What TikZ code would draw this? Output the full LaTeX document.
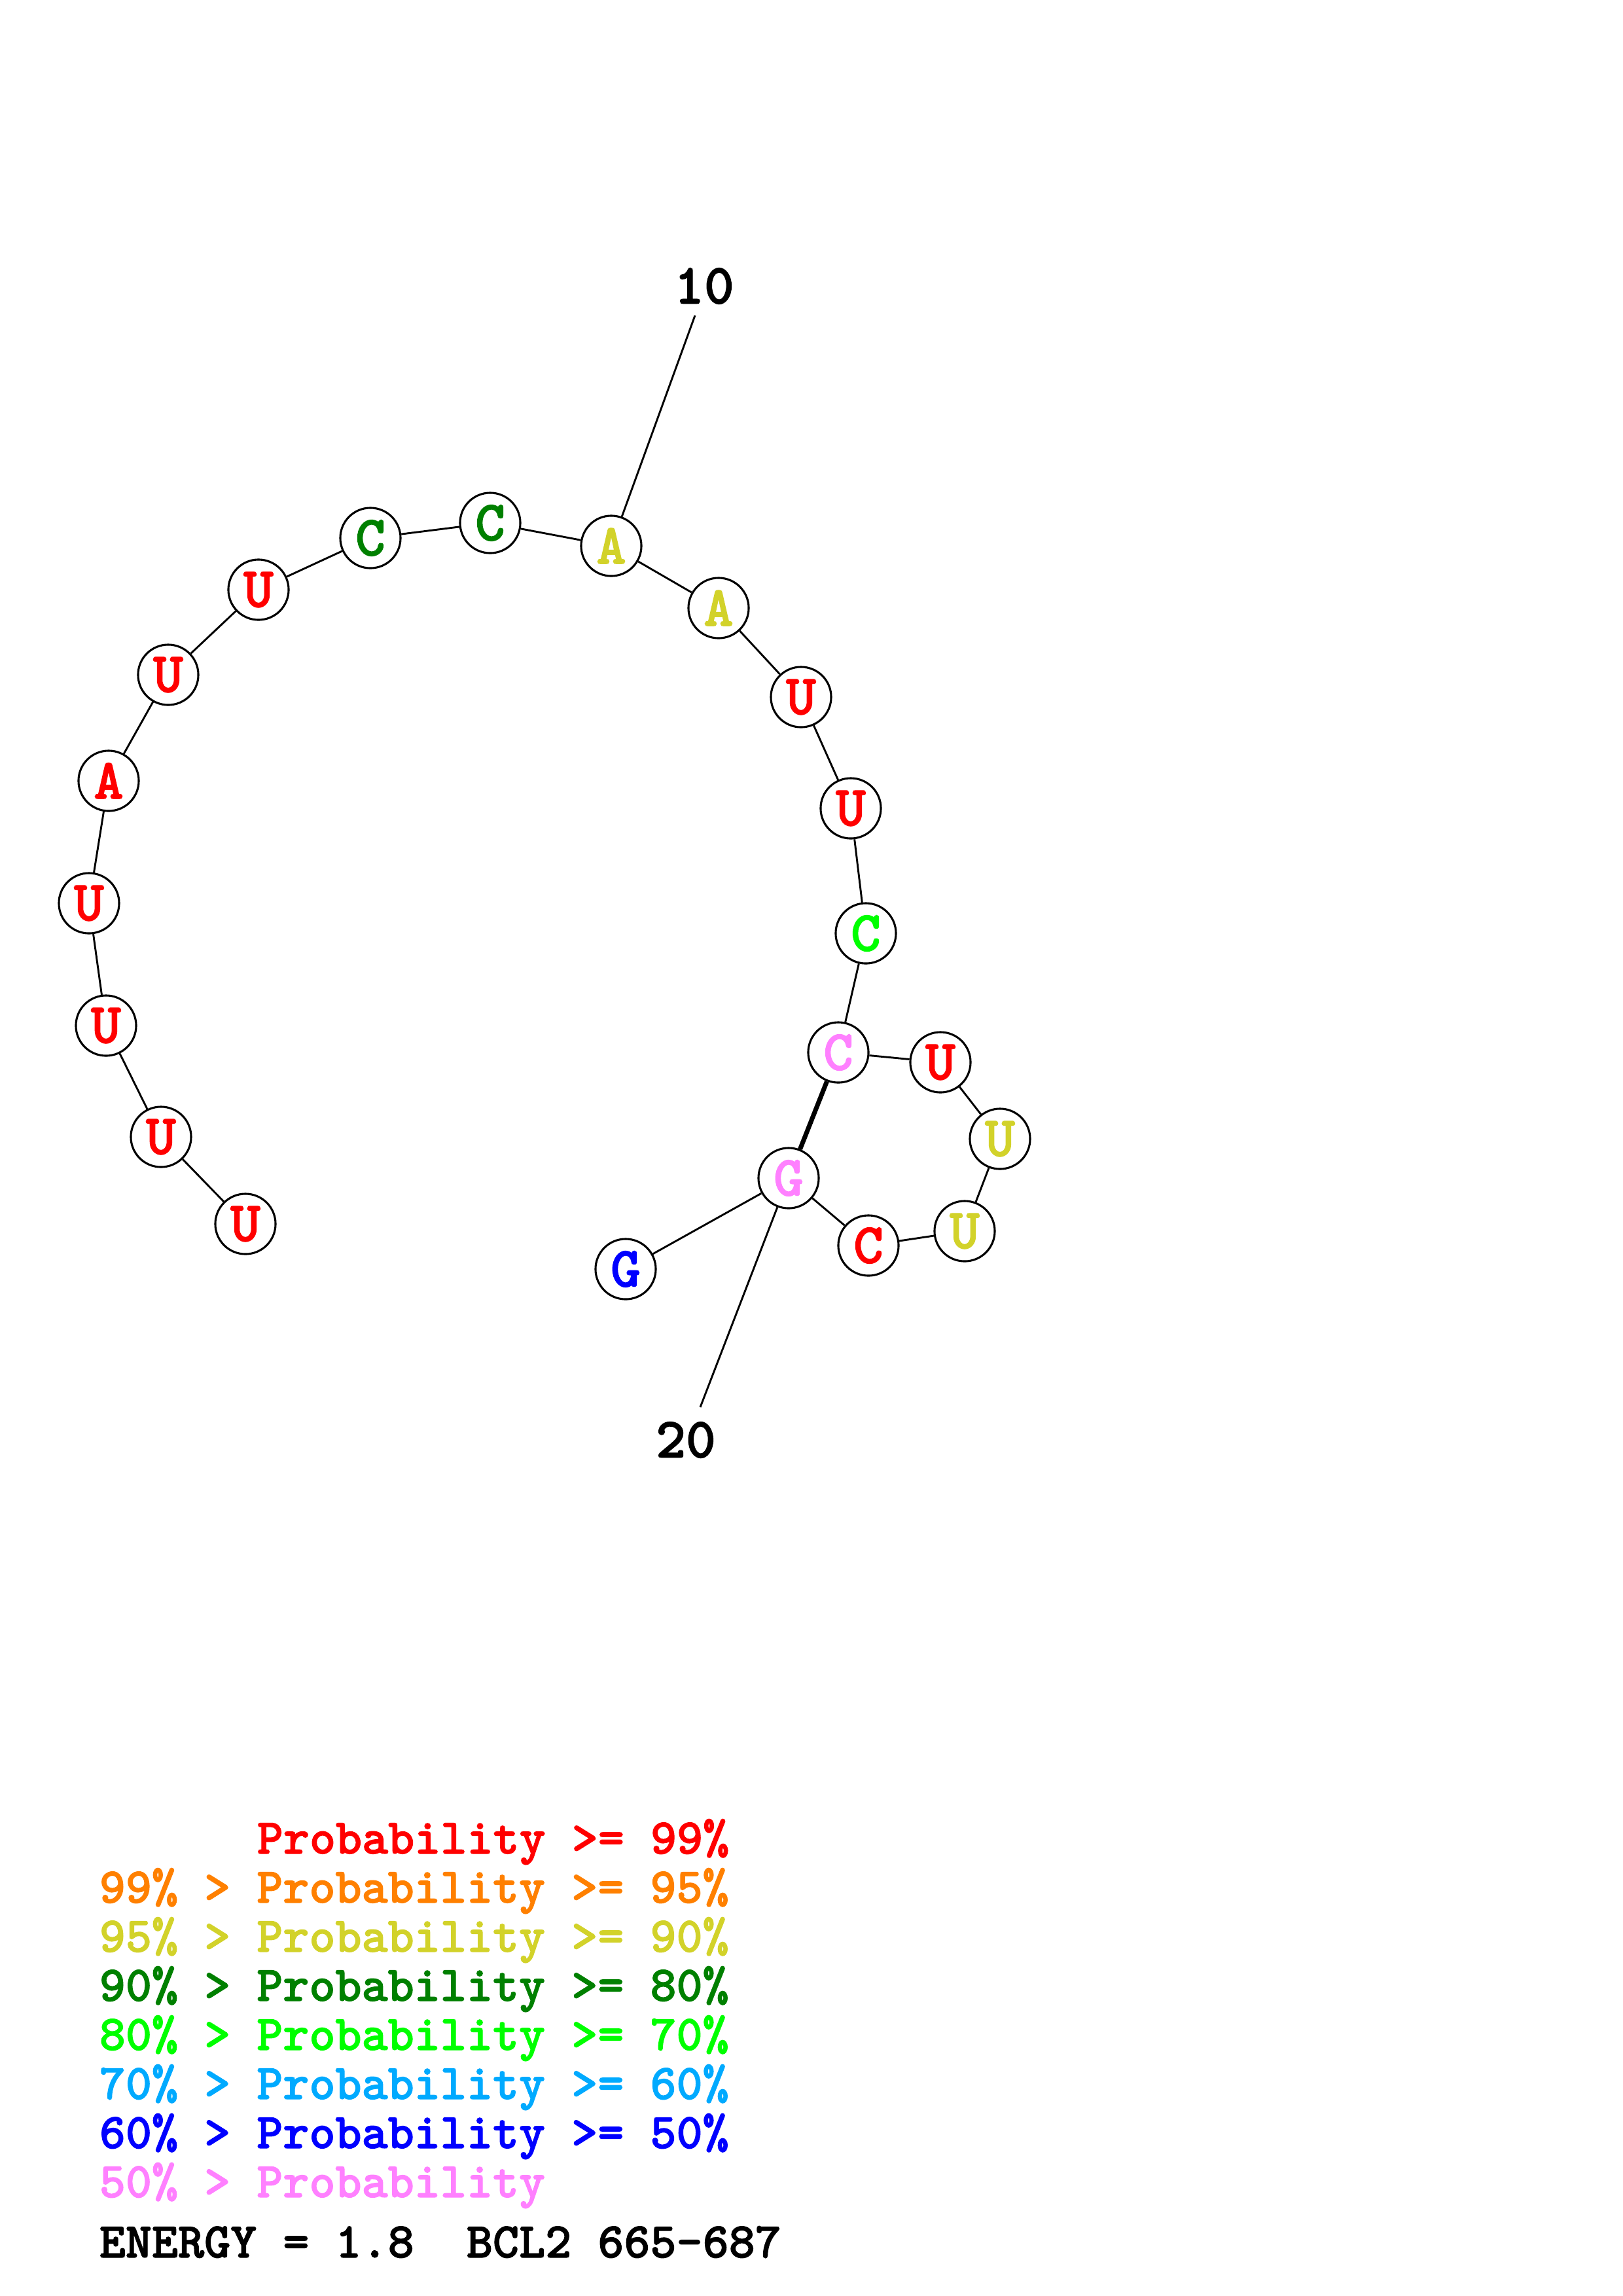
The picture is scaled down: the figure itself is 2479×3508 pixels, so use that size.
\documentclass[tikz,border=0pt]{standalone}
\usepackage{fontspec}
\usepackage{tikz}
\newfontfamily\seqfont{lmmonolt10-bold}[Extension=.otf, FakeBold=1.5]
\definecolor{pr99}{HTML}{FF0000}
\definecolor{pr95}{HTML}{FF8000}
\definecolor{pr90}{HTML}{D2D22A}
\definecolor{pr80}{HTML}{008000}
\definecolor{pr70}{HTML}{00FF00}
\definecolor{pr60}{HTML}{00AAFF}
\definecolor{pr50}{HTML}{0000FF}
\definecolor{prlow}{HTML}{FF80FF}

\begin{document}
\begin{tikzpicture}[
  x=0.08471mm, y=-0.08471mm,
  nt/.style={circle, draw=black, line width=0.75pt, minimum size=7.8mm,
             inner sep=0pt, font=\seqfont\fontsize{21}{25}\selectfont},
  num/.style={font=\seqfont\fontsize{21}{25}\selectfont},
  bb/.style={line width=0.7pt},
  bp/.style={line width=1.7pt},
  leg/.style={anchor=base west, inner sep=0pt,
              font=\seqfont\fontsize{18.4}{22}\selectfont},
]
  \useasboundingbox (0,0) rectangle (2479,3508);

  % ---- bases ----------------------------------------------------------------
  \foreach \i/\x/\y/\b/\c in {1/375/1870/U/pr99, 2/246/1737/U/pr99,
      3/162/1567/U/pr99, 4/136/1380/U/pr99, 5/166/1193/A/pr99,
      6/257/1031/U/pr99, 7/395/901/U/pr99, 8/566/822/C/pr80,
      9/749/799/C/pr80, 10/934/834/A/pr90, 11/1098/929/A/pr90,
      12/1224/1065/U/pr99, 13/1300/1235/U/pr99, 14/1323/1426/C/pr70,
      15/1281/1608/C/prlow, 16/1437/1623/U/pr99, 17/1528/1740/U/pr90,
      18/1474/1881/U/pr90, 19/1327/1903/C/pr99, 20/1205/1800/G/prlow,
      21/956/1939/G/pr50} {
    \node[nt, text=\c] (n\i) at (\x,\y) {\b};
  }

  % ---- backbone and pair ------------------------------------------------------
  \foreach \i [count=\j from 2] in {1,...,20}
    \draw[bb] (n\i) -- (n\j);
  \draw[bp] (n15) -- (n20);

  % ---- numbering ------------------------------------------------------------
  \node[num] (l10) at (1076,437) {10};
  \node[num] (l20) at (1048,2200) {20};
  \coordinate (t10) at (1062,482);
  \coordinate (t20) at (1070,2150);
  \draw[bb] (n10) -- (t10);
  \draw[bb] (n20) -- (t20);

  % ---- legend -----------------------------------------------------------------
  \node[leg, text=pr99] (leg99) at (392,2832) {Probability >= 99\%};
  \foreach \y/\lo/\hi/\c in {2907/99/95/pr95, 2982/95/90/pr90,
                             3057/90/80/pr80, 3132/80/70/pr70,
                             3207/70/60/pr60, 3282/60/50/pr50} {
    \node[leg, text=\c] (leg\lo) at (151,\y) {\lo\% > Probability >= \hi\%};
  }
  \node[leg, text=prlow] (leg50) at (151,3357) {50\% > Probability};
  \node[leg] (energy) at (151,3449) {ENERGY = 1.8\ \ BCL2 665-687};
\end{tikzpicture}
\end{document}
